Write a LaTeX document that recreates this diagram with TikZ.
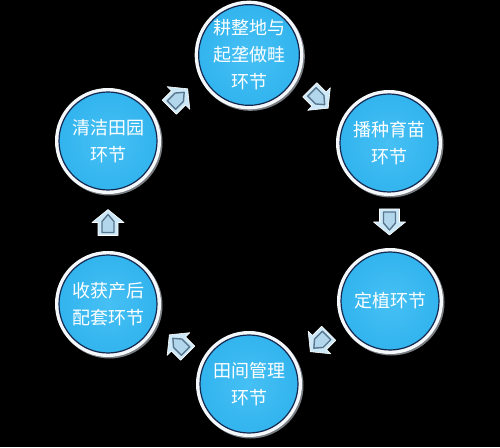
\documentclass[tikz,border=0pt]{standalone}
\usepackage{fontspec}
\setmainfont{Noto Sans CJK SC}
\usepackage{tikz}
\usetikzlibrary{calc}

\definecolor{stagefill}{RGB}{50,180,238}
\definecolor{stagelight}{RGB}{70,192,244}
\definecolor{stageedge}{RGB}{20,40,80}
\definecolor{ringwhite}{RGB}{245,248,250}
\definecolor{ringshade}{RGB}{120,125,130}
\definecolor{arrowfill}{RGB}{205,232,246}
\definecolor{arrowinner}{RGB}{178,214,236}
\definecolor{arrowline}{RGB}{88,118,142}

\begin{document}
\begin{tikzpicture}[x=1pt, y=1pt,
        stage/.style={
            circle, minimum size=98pt, inner sep=0pt,
            draw=stageedge, line width=1.2pt,
            inner color=stagelight, outer color=stagefill,
            preaction={draw=ringshade, line width=8pt,
                transform canvas={shift={(1.5pt,-1.5pt)}}},
            preaction={draw=ringwhite, line width=8pt},
            text=white, align=center,
            font=\fontsize{18}{27}\selectfont
        },
        flowarrow/.pic={
            \filldraw[fill=arrowfill, draw=white, line width=0.6pt, line join=round]
                (-13,-10) -- (0,-10) -- (0,-16) -- (13,0) -- (0,16) -- (0,10) -- (-13,10) -- cycle;
            \filldraw[fill=arrowinner, draw=arrowline, line width=1.4pt, line join=round]
                (-10,-6) -- (1,-6) -- (8,0) -- (1,6) -- (-10,6) -- cycle;
        }
    ]
    \fill[black] (0,0) rectangle (500,447);
    \useasboundingbox (0,0) rectangle (500,447);

    % stages round the ring
    \node[stage] (till)    at (249,392) {耕整地与\\起垄做畦\\环节};
    \node[stage] (sow)     at (389,304) {播种育苗\\环节};
    \node[stage] (plant)   at (390,146) {定植环节};
    \node[stage] (field)   at (249,63)  {田间管理\\环节};
    \node[stage] (harvest) at (108,143) {收获产后\\配套环节};
    \node[stage] (clean)   at (108,306) {清洁田园\\环节};

    % arrows between the stages
    \pic[rotate=45]   at ($(clean)!0.5!(till)$)     {flowarrow};
    \pic[rotate=-45]  at ($(till)!0.5!(sow)$)       {flowarrow};
    \pic[rotate=-90]  at ($(sow)!0.5!(plant)$)      {flowarrow};
    \pic[rotate=-135] at ($(plant)!0.5!(field)$)    {flowarrow};
    \pic[rotate=135]  at ($(field)!0.5!(harvest)$)  {flowarrow};
    \pic[rotate=90]   at ($(harvest)!0.5!(clean)$)  {flowarrow};
\end{tikzpicture}
\end{document}
